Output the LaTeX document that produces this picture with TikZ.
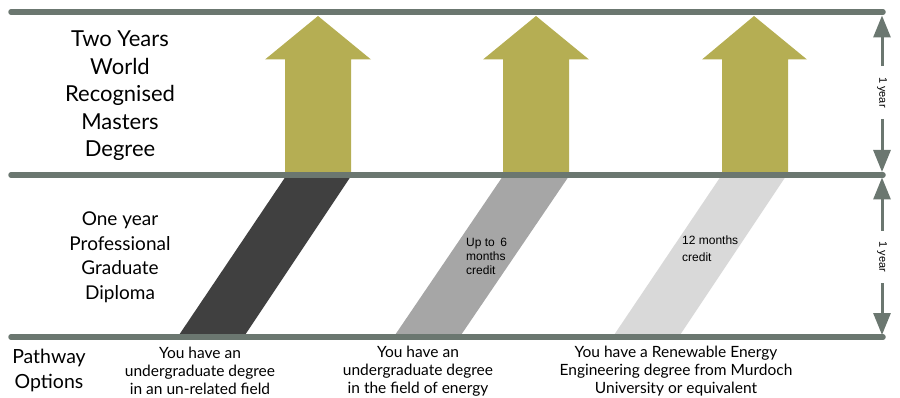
\documentclass[tikz,border=0pt]{standalone}
\usepackage{fontspec}
\setmainfont{Lato}
\newfontfamily\smallf{Liberation Sans}
\usetikzlibrary{arrows.meta}
\definecolor{linegray}{HTML}{6B7770}
\definecolor{olivefill}{HTML}{B5AE53}
\definecolor{darkband}{HTML}{404040}
\definecolor{midband}{HTML}{A6A6A6}
\definecolor{lightband}{HTML}{D9D9D9}
\tikzset{
  hline/.style={draw=linegray, line width=5.5pt, line cap=round},
  uparrow/.style={fill=olivefill},
  band/.style={fill=#1},
  bigtext/.style={align=center, font=\fontsize{22}{27.5}\selectfont, inner sep=0pt},
  midtext/.style={align=center, font=\fontsize{19}{24.5}\selectfont, inner sep=0pt},
  pathtext/.style={align=center, font=\fontsize{19.5}{25}\selectfont, inner sep=0pt},
  optext/.style={align=center, font=\fontsize{15.5}{18}\selectfont, inner sep=0pt},
  credtext/.style={align=left, font=\smallf\fontsize{12}{14}\selectfont, inner sep=0pt, anchor=west},
  credtextb/.style={align=left, font=\smallf\fontsize{12}{17}\selectfont, inner sep=0pt, anchor=west},
  yeartext/.style={rotate=-90, font=\smallf\fontsize{11}{13}\selectfont, inner xsep=11pt, inner ysep=0pt},
  dimline/.style={draw=linegray, line width=3pt, -{Triangle[width=17pt,length=22pt]}}
}
\begin{document}
\begin{tikzpicture}[x=1pt,y=-1pt]
\useasboundingbox (0,0) rectangle (900,398);

% bands
\fill[band=darkband]  (286,176) -- (351,176) -- (243,338) -- (177,338) -- cycle;
\fill[band=midband]   (503,176) -- (569,176) -- (459,338) -- (393,338) -- cycle;
\fill[band=lightband] (721,176) -- (786,176) -- (678,338) -- (612,338) -- cycle;

% up arrows
\fill[uparrow] (285,175) -- (285,59.5) -- (265,59.5) -- (318,16) -- (371,59.5) -- (351,59.5) -- (351,175) -- cycle;
\fill[uparrow] (503,175) -- (503,59.5) -- (483,59.5) -- (536,16) -- (589,59.5) -- (569,59.5) -- (569,175) -- cycle;
\fill[uparrow] (722,175) -- (722,59.5) -- (702,59.5) -- (754,16) -- (807,59.5) -- (788,59.5) -- (788,175) -- cycle;

% horizontal lines
\coordinate (t1) at (11,12);  \coordinate (t2) at (883,12);
\coordinate (m1) at (11,175); \coordinate (m2) at (883,175);
\coordinate (b1) at (11,337); \coordinate (b2) at (883,337);
\draw[hline] (t1) -- (t2);
\draw[hline] (m1) -- (m2);
\draw[hline] (b1) -- (b2);

% left labels
\node[bigtext] (masters) at (120,96) {Two Years\\World\\Recognised\\Masters\\Degree};
\node[midtext] (diploma) at (120,257) {One year\\Professional\\Graduate\\Diploma};
\node[pathtext] (pathway) at (49,370) {Pathway\\Options};

% bottom labels
\node[optext] (opt1) at (200,371) {You have an\\undergraduate degree\\in an un-related field};
\node[optext] (opt2) at (418,371) {You have an\\undergraduate degree\\in the field of energy};
\node[optext] (opt3) at (676,371) {You have a Renewable Energy\\Engineering degree from Murdoch\\University or equivalent};

% credit labels
\node[credtext] (cred1) at (466,256) {Up to\hspace{5.5pt}6\\months\\credit};
\node[credtextb] (cred2) at (682,249) {12 months\\credit};

% year dimensions
\node[yeartext] (yr1) at (882,92.5) {1 year};
\node[yeartext] (yr2) at (882,257) {1 year};
\coordinate (yr1top) at (882,15.5);
\coordinate (yr1bot) at (882,172);
\coordinate (yr2top) at (882,177.5);
\coordinate (yr2bot) at (882,335);
\draw[dimline] (yr1.west) -- (yr1top);
\draw[dimline] (yr1.east) -- (yr1bot);
\draw[dimline] (yr2.west) -- (yr2top);
\draw[dimline] (yr2.east) -- (yr2bot);
\end{tikzpicture}
\end{document}
